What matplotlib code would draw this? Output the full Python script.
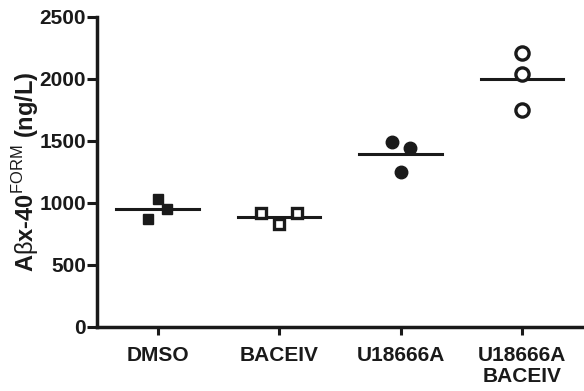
import numpy as np
import matplotlib
matplotlib.use('Agg')
import matplotlib.pyplot as plt

plt.rcParams['font.family'] = ['Liberation Sans', 'DejaVu Sans']
plt.rcParams['mathtext.fontset'] = 'custom'
plt.rcParams['mathtext.rm'] = 'Liberation Sans'
plt.rcParams['mathtext.bf'] = 'Liberation Sans:bold'

# data
groups = ['DMSO', 'BACEIV', 'U18666A', 'U18666A\nBACEIV']
dmso = [1032, 952, 871]
baceiv = [915, 830, 915]
u18 = [1492, 1444, 1250]
u18_bace = [2210, 2040, 1750]
jitter = [[0.0, 0.08, -0.08], [-0.15, 0.0, 0.15], [-0.07, 0.08, 0.0], [0.0, 0.0, 0.0]]

values = [dmso, baceiv, u18, u18_bace]
markers = ['s', 's', 'o', 'o']
filled = [True, False, True, False]
sizes = [7.5, 7.5, 9, 9.5]

col = '#1a1a1a'
fig = plt.figure(figsize=(5.84, 3.91), dpi=100)
ax = fig.add_axes([0.166, 0.164, 0.832, 0.793])

for i, vals in enumerate(values):
    xs = i + np.array(jitter[i])
    if filled[i]:
        ax.plot(xs, vals, ls='none', marker=markers[i], ms=sizes[i],
                mfc=col, mec=col, zorder=3)
    else:
        ax.plot(xs, vals, ls='none', marker=markers[i], ms=sizes[i],
                mfc='white', mec=col, mew=2.4, zorder=3)
    m = np.mean(vals)
    ax.plot([i - 0.34, i + 0.34], [m, m], color=col, lw=2.2, zorder=2)

ax.set_xlim(-0.5, 3.5)
ax.set_ylim(0, 2500)
ax.set_yticks(np.arange(0, 2501, 500))
ax.set_xticks(range(len(groups)))
ax.set_xticklabels(groups, fontsize=15, fontweight='bold', color=col,
                   linespacing=1.1)
for lab in ax.get_yticklabels():
    lab.set_fontsize(15)
    lab.set_fontweight('bold')
    lab.set_color(col)

for s in ['top', 'right']:
    ax.spines[s].set_visible(False)
for s in ['left', 'bottom']:
    ax.spines[s].set_linewidth(2.5)
    ax.spines[s].set_color(col)
ax.tick_params(axis='y', length=7.5, width=2.2, color=col, pad=0.5)
ax.tick_params(axis='x', length=6, width=2.2, color=col, pad=8)

ax.set_ylabel(r'A$\mathrm{\beta}$x-40$^{\mathrm{FORM}}$ (ng/L)', fontsize=17,
              fontweight='bold', color=col, labelpad=-1)

fig.savefig('out.png', dpi=100)
